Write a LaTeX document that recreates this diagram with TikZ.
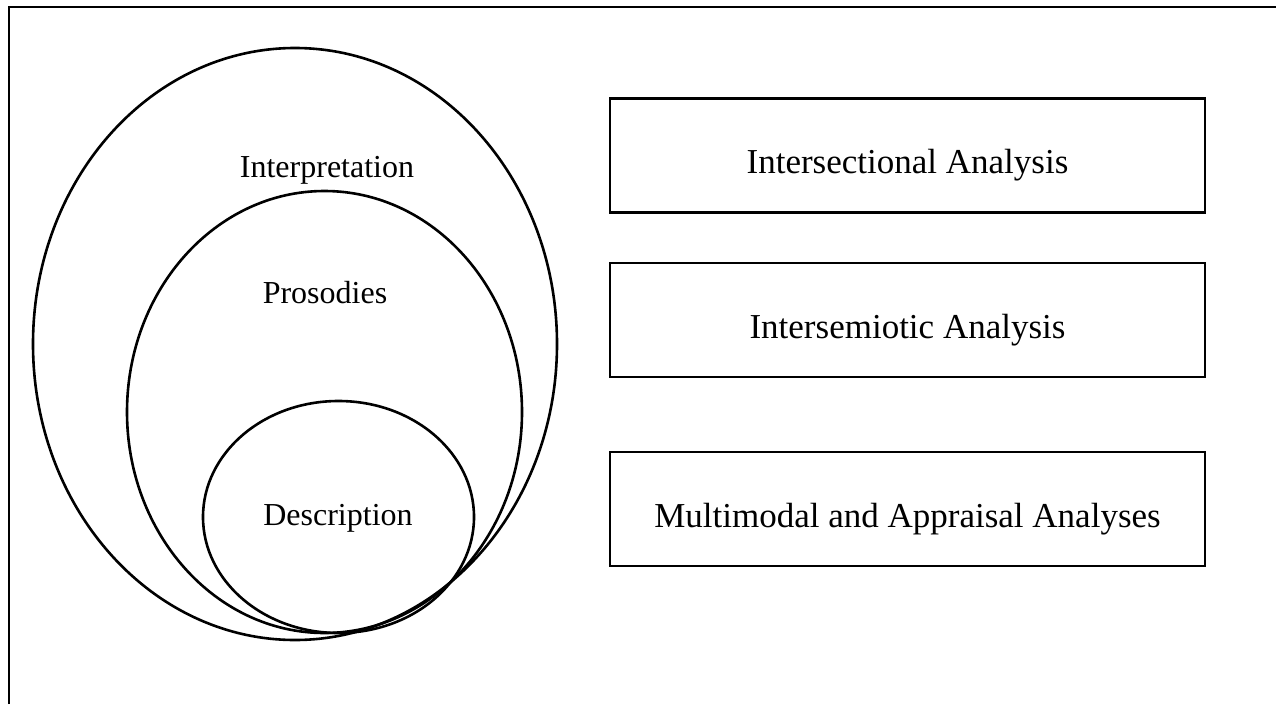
\documentclass[tikz,border=0pt]{standalone}
\usepackage{fontspec}
\setmainfont{Liberation Serif}
\begin{document}
\begin{tikzpicture}[x=1pt,y=-1pt,
  ring/.style={draw,line width=2.6pt},
  label/.style={font=\fontsize{32}{38}\selectfont,inner sep=0pt},
  boxlabel/.style={font=\fontsize{35}{41}\selectfont,inner sep=0pt},
  boxstyle/.style={draw,line width=2.4pt,minimum width=595pt,minimum height=114pt,inner sep=0pt}]
\useasboundingbox (0,0) rectangle (1276,704);
\fill[white] (0,0) rectangle (1276,704);
\draw[line width=2.6pt] (9,704) -- (9,7) -- (1276,7);
\draw[ring] (295,344) ellipse [x radius=262, y radius=296];
\draw[ring] (324.5,412) ellipse [x radius=197.5, y radius=221];
\draw[ring] (338.5,517) ellipse [x radius=135.5, y radius=116];
\node[label] (interp) at (327,170) {Interpretation};
\node[label] (pros) at (325,293) {Prosodies};
\node[label] (desc) at (338,518) {Description};
\node[boxstyle] (b1) at (907.5,155.5) {};
\node[boxstyle] (b2) at (907.5,320) {};
\node[boxstyle] (b3) at (907.5,509) {};
\node[boxlabel] (t1) at ([yshift=-10pt]b1.center) {Intersectional Analysis};
\node[boxlabel] (t2) at ([yshift=-10pt]b2.center) {Intersemiotic Analysis};
\node[boxlabel] (t3) at ([yshift=-10pt]b3.center) {Multimodal and Appraisal Analyses};
\end{tikzpicture}
\end{document}
